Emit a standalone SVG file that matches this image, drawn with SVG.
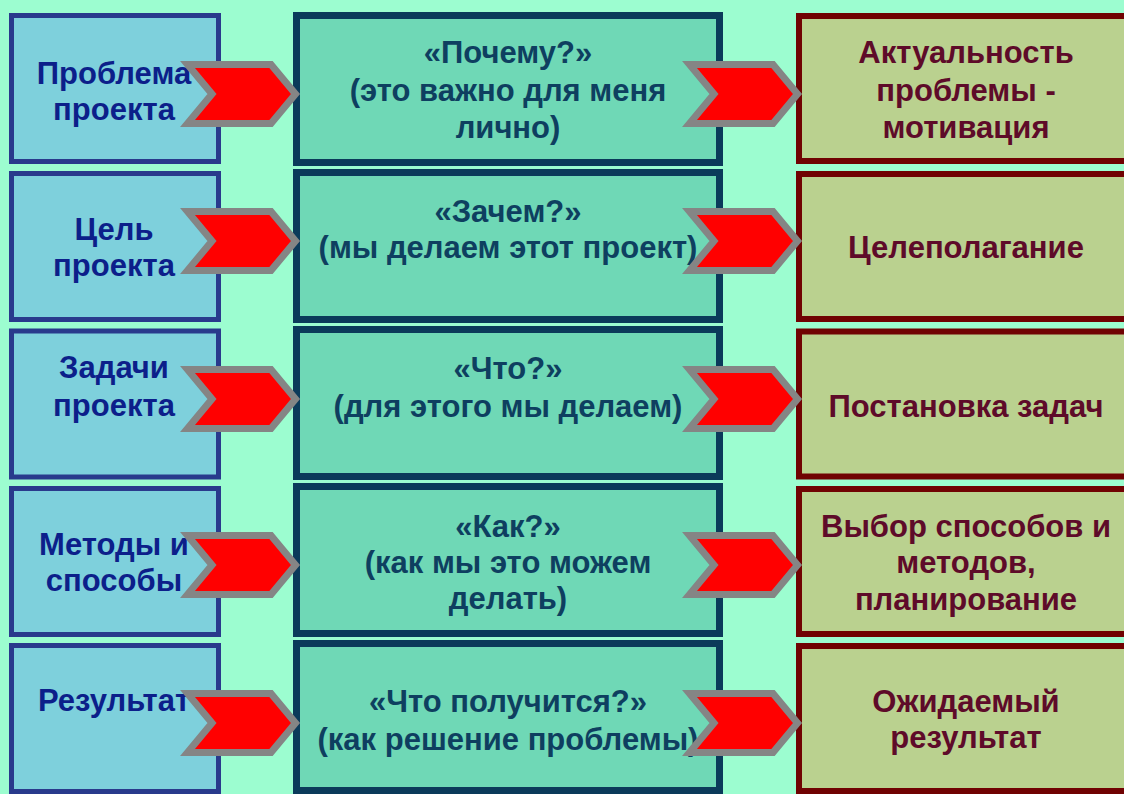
<svg xmlns="http://www.w3.org/2000/svg" xmlns:xlink="http://www.w3.org/1999/xlink" width="1124" height="794" viewBox="0 0 1124 794">
<style>
.bg{fill:#9cfdd0}
.l{fill:#7ed0dc;stroke:#293a8c;stroke-width:5}
.m{fill:#6fd8b6;stroke:#0b3a5a;stroke-width:7}
.r{fill:#bad18f;stroke:#700202;stroke-width:6}
text{font-family:"Liberation Sans",Arial,sans-serif;font-weight:bold;font-size:31px;text-anchor:middle}
.lt{fill:#0c1f8a}
.mt{fill:#0e3f60}
.rt{fill:#5e0b29}
.arr{fill:#ff0000;stroke:#858585;stroke-width:7;stroke-linejoin:miter;stroke-miterlimit:6}
</style>
<defs>
<polygon id="chev" class="arr" points="5.5,-29.5 89,-29.5 113.5,0 89,29.5 5.5,29.5 30,0"/>
</defs>
<rect class="bg" x="0" y="0" width="1124" height="794"/>

<g id="left-1"><rect class="l" x="11.5" y="15.5" width="207" height="146"/><text class="lt" x="114" y="84">Проблема</text><text class="lt" x="114" y="120">проекта</text></g>
<g id="left-2"><rect class="l" x="11.5" y="173.5" width="207" height="146"/><text class="lt" x="114" y="240">Цель</text><text class="lt" x="114" y="276">проекта</text></g>
<g id="left-3"><rect class="l" x="11.5" y="331" width="207" height="146"/><text class="lt" x="114" y="378">Задачи</text><text class="lt" x="114" y="416">проекта</text></g>
<g id="left-4"><rect class="l" x="11.5" y="488.5" width="207" height="146"/><text class="lt" x="114" y="555">Методы и</text><text class="lt" x="114" y="591">способы</text></g>
<g id="left-5"><rect class="l" x="11.5" y="645.5" width="207" height="146"/><text class="lt" x="114" y="711">Результат</text></g>

<g id="mid-1"><rect class="m" x="296.5" y="15.5" width="423" height="147"/><text class="mt" x="508" y="63">«Почему?»</text><text class="mt" x="508" y="101">(это важно для меня</text><text class="mt" x="508" y="138">лично)</text></g>
<g id="mid-2"><rect class="m" x="296.5" y="172.5" width="423" height="147"/><text class="mt" x="508" y="222">«Зачем?»</text><text class="mt" x="508" y="258">(мы делаем этот проект)</text></g>
<g id="mid-3"><rect class="m" x="296.5" y="329.5" width="423" height="147"/><text class="mt" x="508" y="379">«Что?»</text><text class="mt" x="508" y="417">(для этого мы делаем)</text></g>
<g id="mid-4"><rect class="m" x="296.5" y="486.5" width="423" height="147"/><text class="mt" x="508" y="537">«Как?»</text><text class="mt" x="508" y="573">(как мы это можем</text><text class="mt" x="508" y="609">делать)</text></g>
<g id="mid-5"><rect class="m" x="296.5" y="643.5" width="423" height="147"/><text class="mt" x="508" y="712">«Что получится?»</text><text class="mt" x="508" y="750">(как решение проблемы)</text></g>

<g id="right-1"><rect class="r" x="799" y="16" width="340" height="145"/><text class="rt" x="966" y="63">Актуальность</text><text class="rt" x="966" y="101">проблемы -</text><text class="rt" x="966" y="138">мотивация</text></g>
<g id="right-2"><rect class="r" x="799" y="174" width="340" height="145"/><text class="rt" x="966" y="258">Целеполагание</text></g>
<g id="right-3"><rect class="r" x="799" y="331.5" width="340" height="145"/><text class="rt" x="966" y="417">Постановка задач</text></g>
<g id="right-4"><rect class="r" x="799" y="489" width="340" height="145"/><text class="rt" x="966" y="537">Выбор способов и</text><text class="rt" x="966" y="573">методов,</text><text class="rt" x="966" y="610">планирование</text></g>
<g id="right-5"><rect class="r" x="799" y="646" width="340" height="145"/><text class="rt" x="966" y="712">Ожидаемый</text><text class="rt" x="966" y="748">результат</text></g>

<g id="connectors">
<use xlink:href="#chev" transform="translate(182,94)"/>
<use xlink:href="#chev" transform="translate(182,241)"/>
<use xlink:href="#chev" transform="translate(182,399)"/>
<use xlink:href="#chev" transform="translate(182,565)"/>
<use xlink:href="#chev" transform="translate(182,723)"/>
<use xlink:href="#chev" transform="translate(684,94)"/>
<use xlink:href="#chev" transform="translate(684,241)"/>
<use xlink:href="#chev" transform="translate(684,399)"/>
<use xlink:href="#chev" transform="translate(684,565)"/>
<use xlink:href="#chev" transform="translate(684,723)"/>
</g>
</svg>
